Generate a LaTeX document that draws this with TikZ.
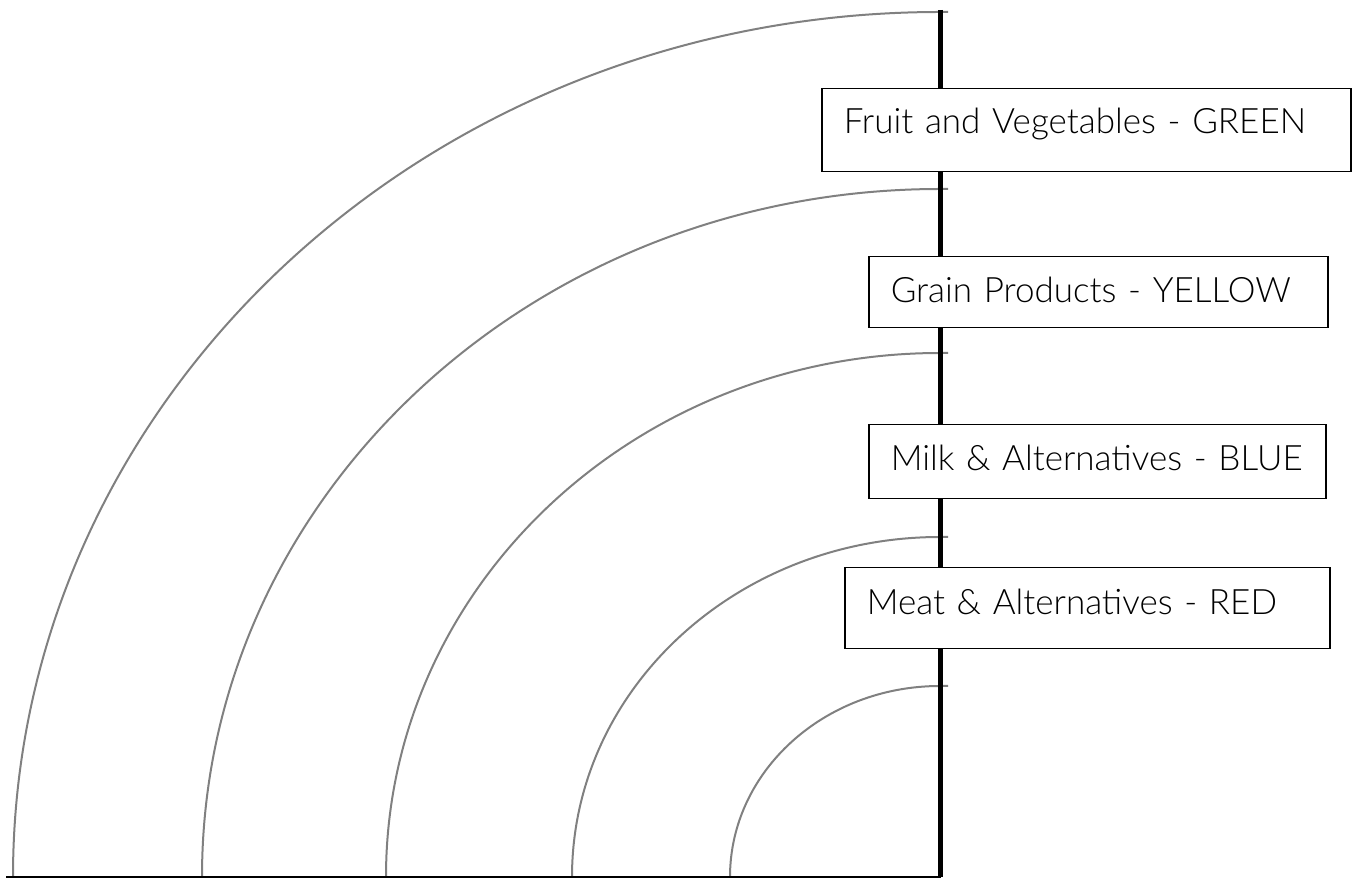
\documentclass[tikz,border=0pt]{standalone}
\usepackage{fontspec}
\setmainfont{Lato}[UprightFont=* Light]
\usetikzlibrary{positioning}

\tikzset{
	ring/.style={draw=gray, line width=1pt},
	foodbox/.style={draw, fill=white, line width=0.75pt, anchor=north west, align=left, inner xsep=11pt, inner ysep=0pt, font=\fontsize{17.5}{20}\selectfont},
}

\begin{document}
\begin{tikzpicture}[x=0.5pt,y=0.5pt]
	\useasboundingbox (0,0) rectangle (1354,878);

	% rings, outside in
	\foreach \rx/\ry in {927/865, 738/688, 554/524, 368/340, 210/191}
	{
		\draw[ring] (940-\rx,1) arc[start angle=180, end angle=90, x radius=\rx, y radius=\ry] -- ++(8,0);
	}

	\coordinate (top) at (940.5,868);
	\coordinate (corner) at (940.5,1);
	\coordinate (left) at (6,1);
	\draw[line width=2.25pt] (top) -- (corner);
	\draw[line width=1.25pt] (left) -- (corner);

	\node[foodbox, text width=242.5pt, text height=22.5pt, text depth=19pt] (fruit) at (821,790) {Fruit and Vegetables - GREEN};
	\node[foodbox, text width=207.5pt, text height=23pt, text depth=12.5pt] (grain) at (868,622) {Grain Products - YELLOW};
	\node[foodbox, text width=206.5pt, text height=23pt, text depth=14pt] (milk) at (868,454) {Milk \& Alternatives - BLUE};
	\node[foodbox, text width=220.5pt, text height=23.5pt, text depth=17pt] (meat) at (844,311) {Meat \& Alternatives - RED};

\end{tikzpicture}
\end{document}
